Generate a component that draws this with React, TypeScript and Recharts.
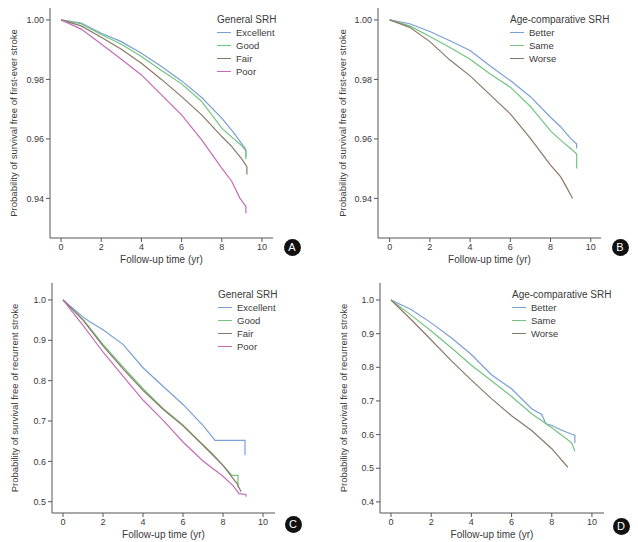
import React from "react";
import { LineChart, Line, XAxis, YAxis, Legend } from "recharts";

const FONT = '"Liberation Sans", Arial, sans-serif';
const TEXT = "#3a3a3a";
const AXIS = "#555555";

const BLUE = "#7b9fd4";
const GREEN = "#72c47f";
const BROWN = "#8b7965";
const PINK = "#c46cb9";

const xTicks = [0, 2, 4, 6, 8, 10];
const firstTicks = [0.94, 0.96, 0.98, 1.0];
const recurTicksC = [0.5, 0.6, 0.7, 0.8, 0.9, 1.0];
const recurTicksD = [0.4, 0.5, 0.6, 0.7, 0.8, 0.9, 1.0];

const generalNames = ["Excellent", "Good", "Fair", "Poor"];
const ageNames = ["Better", "Same", "Worse"];

// Panel A: first-ever stroke, general SRH
const aExcellent = [[0, 1], [1, 0.9989], [2, 0.9955], [3, 0.9927], [4, 0.9888], [5, 0.9843], [6, 0.9795], [7, 0.9739], [8, 0.967], [8.6, 0.962], [9.2, 0.9565], [9.2, 0.954]];
const aGood = [[0, 1], [1, 0.9987], [2, 0.9951], [3, 0.9918], [4, 0.9877], [5, 0.983], [6, 0.9785], [7, 0.9726], [8, 0.9636], [8.5, 0.9606], [9, 0.9577], [9.2, 0.9561], [9.2, 0.9532]];
const aFair = [[0, 1], [1, 0.998], [2, 0.9942], [3, 0.9901], [4, 0.9854], [5, 0.98], [6, 0.9742], [7, 0.9681], [8, 0.9608], [8.5, 0.9574], [9, 0.9532], [9.25, 0.9507], [9.25, 0.948]];
const aPoor = [[0, 1], [1, 0.9969], [2, 0.9919], [3, 0.9868], [4, 0.9815], [5, 0.9748], [6, 0.9681], [7, 0.9597], [8, 0.9502], [8.5, 0.9457], [8.9, 0.9401], [9.2, 0.9373], [9.2, 0.935]];

// Panel B: first-ever stroke, age-comparative SRH
const bBetter = [[0, 1], [1, 0.9987], [2, 0.9961], [3, 0.993], [4, 0.9897], [5, 0.9845], [6, 0.9796], [7, 0.9742], [8, 0.9673], [8.5, 0.9641], [9, 0.9602], [9.3, 0.9583], [9.3, 0.9568]];
const bSame = [[0, 1], [1, 0.998], [2, 0.9944], [3, 0.9907], [4, 0.9868], [5, 0.9818], [6, 0.9774], [7, 0.9709], [8, 0.9627], [8.5, 0.9596], [9, 0.9568], [9.3, 0.9549], [9.3, 0.9501]];
const bWorse = [[0, 1], [1, 0.9975], [2, 0.9927], [3, 0.9865], [4, 0.9812], [5, 0.9748], [6, 0.9684], [7, 0.9602], [8, 0.9512], [8.5, 0.9473], [8.8, 0.9437], [9.1, 0.94]];

// Panel C: recurrent stroke, general SRH
const cExcellent = [[0, 1], [1, 0.958], [1.3, 0.947], [2, 0.926], [3, 0.89], [4, 0.832], [5, 0.786], [6, 0.741], [7, 0.689], [7.6, 0.652], [9.1, 0.652], [9.1, 0.615]];
const cGood = [[0, 1], [1, 0.952], [2, 0.89], [3, 0.834], [4, 0.78], [5, 0.731], [6, 0.69], [7, 0.641], [7.5, 0.618], [8, 0.59], [8.45, 0.565], [8.75, 0.565], [8.75, 0.535]];
const cFair = [[0, 1], [1, 0.95], [2, 0.886], [3, 0.829], [4, 0.776], [5, 0.729], [6, 0.688], [7, 0.64], [8, 0.59], [8.7, 0.545], [8.9, 0.525]];
const cPoor = [[0, 1], [1, 0.937], [2, 0.871], [3, 0.811], [4, 0.752], [5, 0.702], [6, 0.648], [7, 0.601], [8, 0.563], [8.5, 0.54], [8.8, 0.52], [9.15, 0.518], [9.15, 0.512]];

// Panel D: recurrent stroke, age-comparative SRH
const dBetter = [[0, 1], [1, 0.972], [2, 0.932], [3, 0.888], [4, 0.838], [5, 0.778], [6, 0.736], [7, 0.677], [7.5, 0.66], [7.7, 0.633], [8, 0.627], [8.5, 0.613], [9, 0.601], [9.15, 0.598], [9.15, 0.575]];
const dSame = [[0, 1], [1, 0.955], [2, 0.908], [3, 0.858], [4, 0.806], [5, 0.76], [6, 0.713], [7, 0.662], [8, 0.62], [8.5, 0.598], [9, 0.575], [9.15, 0.55]];
const dWorse = [[0, 1], [1, 0.942], [2, 0.881], [3, 0.82], [4, 0.762], [5, 0.707], [6, 0.656], [7, 0.612], [8, 0.558], [8.8, 0.503]];

const toRows = (arr: number[][]) => arr.map(([x, y]) => ({ x, y }));

type SeriesDef = { name: string; color: string; points: number[][] };

const makeLegend = (title: string, order: string[]) => (props: any) => {
  const payload = [...(props.payload || [])].sort(
    (a: any, b: any) => order.indexOf(a.value) - order.indexOf(b.value)
  );
  return (
    <div style={{ fontFamily: FONT, fontSize: 9.5, color: TEXT, lineHeight: "13px", whiteSpace: "nowrap" }}>
      <div style={{ fontSize: 10 }}>{title}</div>
      {payload.map((p: any) => (
        <div key={p.value} style={{ display: "flex", alignItems: "center", height: 13 }}>
          <span style={{ display: "inline-block", width: 14, borderTop: `1.3px solid ${p.color}`, marginRight: 5 }} />
          <span>{p.value}</span>
        </div>
      ))}
    </div>
  );
};

type PanelProps = {
  left: number;
  top: number;
  width: number;
  height: number;
  margin: { top: number; right: number; bottom: number; left: number };
  xDomain: [number, number];
  yDomain: [number, number];
  yTicks: number[];
  yDigits: number;
  yLabel: string;
  yLabelOffset: number;
  legendTitle: string;
  legendOrder: string[];
  legendPos: { top: number; left: number };
  series: SeriesDef[];
  badge: string;
  badgePos: { x: number; y: number };
};

function Panel(p: PanelProps) {
  const tickStyle = { fontFamily: FONT, fontSize: 9, fill: TEXT };
  return (
    <div style={{ position: "absolute", left: p.left, top: p.top, width: p.width, height: p.height }}>
      <LineChart width={p.width} height={p.height} margin={p.margin}>
        <XAxis
          type="number"
          dataKey="x"
          domain={p.xDomain}
          ticks={xTicks}
          allowDataOverflow
          stroke={AXIS}
          tick={tickStyle}
          tickSize={4}
          height={25}
          label={{ value: "Follow-up time (yr)", position: "insideBottom", offset: 0, style: { fontFamily: FONT, fontSize: 10, fill: TEXT } }}
        />
        <YAxis
          type="number"
          dataKey="y"
          domain={p.yDomain}
          ticks={p.yTicks}
          allowDataOverflow
          stroke={AXIS}
          tick={tickStyle}
          tickSize={4}
          width={40}
          tickFormatter={(v: number) => v.toFixed(p.yDigits)}
          label={{ value: p.yLabel, angle: -90, position: "insideLeft", offset: p.yLabelOffset, style: { fontFamily: FONT, fontSize: 9.5, fill: TEXT, textAnchor: "middle" } }}
        />
        <Legend
          layout="vertical"
          verticalAlign="middle"
          align="center"
          content={makeLegend(p.legendTitle, p.legendOrder)}
          wrapperStyle={{ position: "absolute", top: p.legendPos.top, left: p.legendPos.left, width: "auto" }}
        />
        {p.series.map((s) => (
          <Line
            key={s.name}
            name={s.name}
            data={toRows(s.points)}
            dataKey="y"
            type="linear"
            stroke={s.color}
            strokeWidth={1.2}
            dot={false}
            activeDot={false}
            isAnimationActive={false}
          />
        ))}
      </LineChart>
      <div
        style={{
          position: "absolute",
          left: p.badgePos.x - 8.5,
          top: p.badgePos.y - 8.5,
          width: 17,
          height: 17,
          borderRadius: "50%",
          background: "#111",
          color: "#fff",
          fontFamily: FONT,
          fontSize: 11,
          lineHeight: "17px",
          textAlign: "center",
        }}
      >
        {p.badge}
      </div>
    </div>
  );
}

export default function App() {
  const generalColors = [BLUE, GREEN, BROWN, PINK];
  const ageColors = [BLUE, GREEN, BROWN];
  const aSeries = [aExcellent, aGood, aFair, aPoor].map((pts, i) => ({ name: generalNames[i], color: generalColors[i], points: pts }));
  const bSeries = [bBetter, bSame, bWorse].map((pts, i) => ({ name: ageNames[i], color: ageColors[i], points: pts }));
  const cSeries = [cExcellent, cGood, cFair, cPoor].map((pts, i) => ({ name: generalNames[i], color: generalColors[i], points: pts }));
  const dSeries = [dBetter, dSame, dWorse].map((pts, i) => ({ name: ageNames[i], color: ageColors[i], points: pts }));

  return (
    <div style={{ position: "absolute", left: 0, top: 0, width: 638, height: 542, background: "#fff", overflow: "hidden" }}>
      <Panel
        left={0}
        top={0}
        width={319}
        height={271}
        margin={{ top: 8, right: 46, bottom: 8, left: 10 }}
        xDomain={[-0.55, 10.55]}
        yDomain={[0.9267, 1.004]}
        yTicks={firstTicks}
        yDigits={2}
        yLabel="Probability of survival free of first-ever stroke"
        yLabelOffset={4}
        legendTitle="General SRH"
        legendOrder={generalNames}
        legendPos={{ top: 13, left: 217 }}
        series={aSeries}
        badge="A"
        badgePos={{ x: 292, y: 247 }}
      />
      <Panel
        left={318}
        top={0}
        width={320}
        height={271}
        margin={{ top: 8, right: 37, bottom: 8, left: 20 }}
        xDomain={[-0.58, 10.51]}
        yDomain={[0.9267, 1.004]}
        yTicks={firstTicks}
        yDigits={2}
        yLabel="Probability of survival free of first-ever stroke"
        yLabelOffset={5}
        legendTitle="Age-comparative SRH"
        legendOrder={ageNames}
        legendPos={{ top: 13, left: 192 }}
        series={bSeries}
        badge="B"
        badgePos={{ x: 302, y: 247 }}
      />
      <Panel
        left={0}
        top={271}
        width={319}
        height={271}
        margin={{ top: 12, right: 44, bottom: 4, left: 12 }}
        xDomain={[-0.55, 10.6]}
        yDomain={[0.472, 1.042]}
        yTicks={recurTicksC}
        yDigits={1}
        yLabel="Probability of survival free of recurrent stroke"
        yLabelOffset={3}
        legendTitle="General SRH"
        legendOrder={generalNames}
        legendPos={{ top: 17, left: 218 }}
        series={cSeries}
        badge="C"
        badgePos={{ x: 293, y: 253 }}
      />
      <Panel
        left={318}
        top={271}
        width={320}
        height={271}
        margin={{ top: 12, right: 34, bottom: 4, left: 22 }}
        xDomain={[-0.547, 10.6]}
        yDomain={[0.367, 1.0505]}
        yTicks={recurTicksD}
        yDigits={1}
        yLabel="Probability of survival free of recurrent stroke"
        yLabelOffset={4}
        legendTitle="Age-comparative SRH"
        legendOrder={ageNames}
        legendPos={{ top: 17, left: 194 }}
        series={dSeries}
        badge="D"
        badgePos={{ x: 303, y: 255 }}
      />
    </div>
  );
}
